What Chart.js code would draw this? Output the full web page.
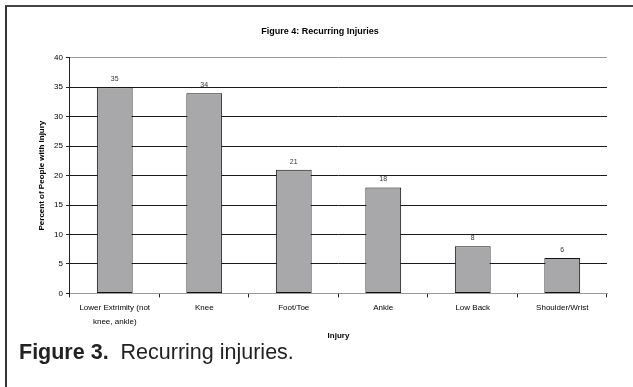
<!DOCTYPE html>
<html>
<head>
<meta charset="utf-8">
<script src="https://cdn.jsdelivr.net/npm/chart.js@4.4.1/dist/chart.umd.min.js"></script>
<style>
  html, body { margin: 0; padding: 0; background: #fff; }
  #wrap { position: relative; width: 633px; height: 387px; overflow: hidden; }
  #chart { position: absolute; left: 0; top: 0; }
  .frame-left { position: absolute; left: 5px; top: 5px; width: 2px; height: 382px; background: #333; }
  .frame-top { position: absolute; left: 5px; top: 5px; width: 628px; height: 2px; background: #444; }
  #caption {
    position: absolute; left: 19px; top: 340px;
    font-family: "Liberation Sans", Arial, sans-serif; font-size: 21.5px; color: #222;
    white-space: pre; line-height: 24px;
  }
  #caption b { font-weight: bold; }
</style>
</head>
<body>
<div id="wrap">
  <div class="frame-left"></div>
  <div class="frame-top"></div>
  <canvas id="chart" width="633" height="387"></canvas>
  <div id="caption"><b>Figure 3.</b>  Recurring injuries.</div>
</div>
<script>
// Injury categories and the percent of people reporting each as recurring
const categories = [
  ['Lower Extrimity (not', 'knee, ankle)'],
  'Knee',
  'Foot/Toe',
  'Ankle',
  'Low Back',
  'Shoulder/Wrist'
];
const percentWithInjury = [35, 34, 21, 18, 8, 6];
const yTicks = [0, 5, 10, 15, 20, 25, 30, 35, 40];

const FONT = '"Liberation Sans", Arial, sans-serif';

// Small value labels above each bar
const barValueLabels = {
  id: 'barValueLabels',
  afterDatasetsDraw(chart) {
    const { ctx } = chart;
    const meta = chart.getDatasetMeta(0);
    ctx.save();
    ctx.font = '7px ' + FONT;
    ctx.fillStyle = '#333';
    ctx.textAlign = 'center';
    ctx.textBaseline = 'middle';
    meta.data.forEach((bar, i) => {
      ctx.fillText(String(chart.data.datasets[0].data[i]), bar.x, bar.y - 8);
    });
    ctx.restore();
  }
};

new Chart(document.getElementById('chart'), {
  type: 'bar',
  data: {
    labels: categories,
    datasets: [{
      data: percentWithInjury,
      backgroundColor: '#a8a8aa',
      borderColor: '#111',
      borderWidth: 1,
      borderSkipped: false,
      categoryPercentage: 1.0,
      barPercentage: 0.4
    }]
  },
  options: {
    responsive: false,
    animation: false,
    devicePixelRatio: 1,
    layout: { padding: { left: 33, right: 26, top: 20, bottom: 46 } },
    plugins: {
      legend: { display: false },
      tooltip: { enabled: false },
      title: {
        display: true,
        text: 'Figure 4: Recurring Injuries',
        color: '#000',
        font: { family: FONT, size: 9, weight: 'bold' },
        padding: { top: 6, bottom: 21 }
      }
    },
    scales: {
      x: {
        offset: true,
        border: { display: true, color: '#999', width: 1 },
        grid: {
          offset: true,
          drawOnChartArea: true,
          drawTicks: true,
          tickLength: 4,
          tickColor: '#222',
          color: (c) => (c.index === categories.length ? '#999' : 'rgba(0,0,0,0)')
        },
        ticks: {
          color: '#000',
          maxRotation: 0,
          autoSkip: false,
          padding: 3,
          font: { family: FONT, size: 8, lineHeight: 1.75 }
        },
        title: {
          display: true,
          text: 'Injury',
          color: '#000',
          font: { family: FONT, size: 8, weight: 'bold' },
          padding: { top: 0, bottom: 0 }
        }
      },
      y: {
        min: 0,
        max: 40,
        afterBuildTicks: (axis) => { axis.ticks = yTicks.map(v => ({ value: v })); },
        border: { display: true, color: '#222', width: 1 },
        grid: {
          tickLength: 4,
          tickColor: '#222',
          color: (c) => (c.tick && c.tick.value === 40 ? '#999' : '#1a1a1a')
        },
        ticks: {
          color: '#000',
          padding: 3,
          font: { family: FONT, size: 8 }
        },
        title: {
          display: true,
          text: 'Percent of People with Injury',
          color: '#000',
          font: { family: FONT, size: 8, weight: 'bold' },
          padding: { top: 4, bottom: 4.5 }
        }
      }
    }
  },
  plugins: [barValueLabels]
});
</script>
</body>
</html>
